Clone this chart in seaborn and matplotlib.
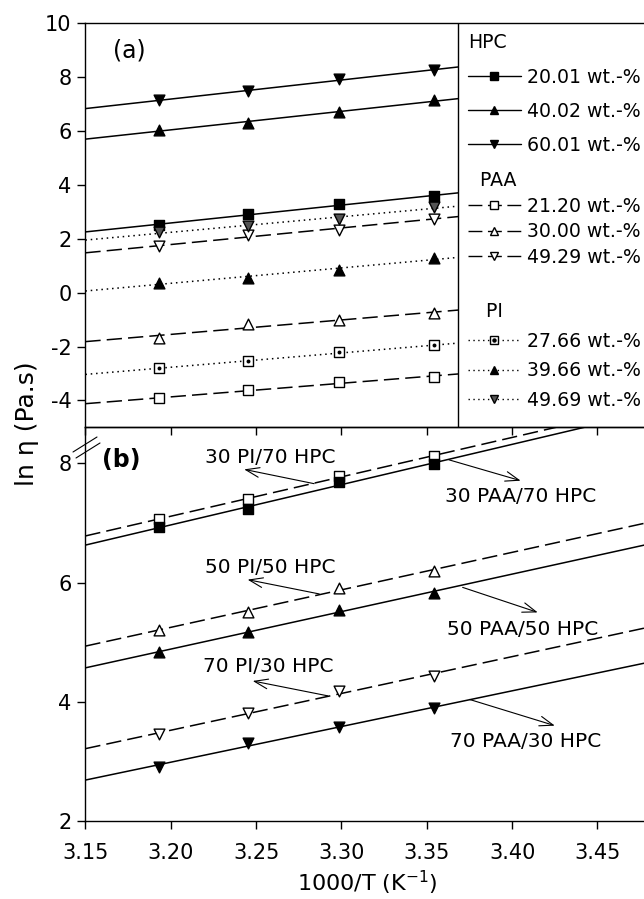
import numpy as np
import matplotlib
matplotlib.use("Agg")
import matplotlib.pyplot as plt
from matplotlib.lines import Line2D
from matplotlib.patches import Rectangle
from matplotlib.legend import Legend
import seaborn as sns

# === Data ===
inv_T = np.array([3.1934, 3.2452, 3.2987, 3.3540])

# panel (a): pure solutions
hpc_20 = [2.50, 2.93, 3.28, 3.57]
hpc_40 = [6.05, 6.29, 6.70, 7.14]
hpc_60 = [7.14, 7.48, 7.94, 8.25]
paa_21 = [-3.93, -3.63, -3.32, -3.13]
paa_30 = [-1.67, -1.18, -1.03, -0.76]
paa_49 = [1.72, 2.13, 2.34, 2.75]
pi_27 = [-2.80, -2.55, -2.22, -1.96]
pi_39 = [0.36, 0.56, 0.85, 1.28]
pi_49 = [2.25, 2.46, 2.75, 3.18]

# panel (b): blends
pi30_hpc70 = [7.07, 7.40, 7.79, 8.12]
paa30_hpc70 = [6.93, 7.24, 7.68, 7.99]
pi50_hpc50 = [5.21, 5.51, 5.91, 6.20]
paa50_hpc50 = [4.83, 5.17, 5.54, 5.83]
pi70_hpc30 = [3.46, 3.81, 4.18, 4.44]
paa70_hpc30 = [2.91, 3.31, 3.58, 3.89]

hpc_labels = ["20.01 wt.-%", "40.02 wt.-%", "60.01 wt.-%"]
paa_labels = ["21.20 wt.-%", "30.00 wt.-%", "49.29 wt.-%"]
pi_labels = ["27.66 wt.-%", "39.66 wt.-%", "49.69 wt.-%"]

blend_labels = ["30 PI/70 HPC", "30 PAA/70 HPC", "50 PI/50 HPC",
                "50 PAA/50 HPC", "70 PI/30 HPC", "70 PAA/30 HPC"]
blend_text_xy = [(3.258, 8.10), (3.405, 7.44), (3.258, 6.26),
                 (3.406, 5.22), (3.257, 4.60), (3.408, 3.34)]
blend_tail_xy = [(3.284, 7.66), (3.363, 8.06), (3.287, 5.81),
                 (3.371, 5.92), (3.292, 4.10), (3.375, 4.04)]
blend_head_xy = [(3.243, 7.90), (3.405, 7.71), (3.245, 6.05),
                 (3.415, 5.50), (3.248, 4.35), (3.425, 3.60)]

# === Styles ===
SOLID = "-"
DASH = (0, (10, 4))
DOT = (0, (1, 2.5))

sns.set_theme(style="ticks")
plt.rcParams["font.family"] = ["DejaVu Sans"]
plt.rcParams["axes.unicode_minus"] = False
plt.rcParams["axes.linewidth"] = 1.0
for key in ("text.color", "axes.labelcolor", "xtick.color", "ytick.color",
            "axes.edgecolor"):
    plt.rcParams[key] = "black"

W, H = 644, 899
left, right = 85.4, 648.7
a_top, mid, b_bot = 23.3, 427.3, 821.0

fig = plt.figure(figsize=(W / 100, H / 100), dpi=100)
ax_a = fig.add_axes([left / W, 1 - mid / H, (right - left) / W, (mid - a_top) / H])
ax_b = fig.add_axes([left / W, 1 - b_bot / H, (right - left) / W, (b_bot - mid) / H])
ax_b.patch.set_visible(False)

for ax in (ax_a, ax_b):
    ax.set_xlim(3.15, 3.48)
    ax.set_xticks(np.arange(3.15, 3.46, 0.05))
    ax.tick_params(axis="both", direction="out", length=6, width=1,
                   color="black", labelcolor="black", labelsize=15, pad=4)
    for s in ax.spines.values():
        s.set_color("black")
        s.set_linewidth(1.0)

ax_a.set_ylim(-5, 10)
ax_a.set_yticks(np.arange(-4, 11, 2))
ax_a.tick_params(axis="x", labelbottom=False)
ax_b.set_ylim(2, 8.606)
ax_b.set_yticks([2, 4, 6, 8])
ax_b.tick_params(axis="x", pad=10)
ax_b.xaxis.set_major_formatter(matplotlib.ticker.FormatStrFormatter("%.2f"))


def fit(ax, y, marker, face, ls, s=55):
    sns.regplot(x=inv_T, y=np.array(y), ax=ax, ci=None, truncate=False,
                marker=marker, color="black",
                scatter_kws={"s": s, "facecolors": face, "edgecolors": "black",
                             "linewidths": 1.0, "alpha": 1, "zorder": 3},
                line_kws={"lw": 1.1, "ls": ls, "zorder": 2})


# === Panel (a) ===
fit(ax_a, hpc_20, "s", "black", SOLID, 50)
fit(ax_a, hpc_40, "^", "black", SOLID, 60)
fit(ax_a, hpc_60, "v", "black", SOLID, 60)
fit(ax_a, paa_21, "s", "white", DASH, 50)
fit(ax_a, paa_30, "^", "white", DASH, 60)
fit(ax_a, paa_49, "v", "white", DASH, 60)
fit(ax_a, pi_27, "s", "white", DOT, 50)
fit(ax_a, pi_39, "^", "black", DOT, 60)
fit(ax_a, pi_49, "v", "#555555", DOT, 60)
sns.scatterplot(x=inv_T, y=pi_27, ax=ax_a, marker="o", s=8, color="black",
                edgecolor="black", linewidth=0, zorder=4)

ax_a.text(3.1755, 8.99, "(a)", fontsize=17, ha="center", va="center")

# legend panel with its own frame
lx = (458.3 - left) / (right - left)
ax_a.add_patch(Rectangle((lx, 0), 1 - lx, 1, transform=ax_a.transAxes,
                         facecolor="white", edgecolor="black", lw=1.0, zorder=4))


def handle(marker, face, ls):
    return Line2D([], [], color="black", lw=1.0, ls=ls, marker=marker,
                  markersize=6, markerfacecolor=face, markeredgecolor="black")


hpc_handles = [handle("s", "black", SOLID), handle("^", "black", SOLID),
               handle("v", "black", SOLID)]
paa_handles = [handle("s", "white", DASH), handle("^", "white", DASH),
               handle("v", "white", DASH)]
pi_handles = [(handle("s", "white", DOT),
               Line2D([], [], ls="none", marker="o", markersize=2.2, color="black")),
              handle("^", "black", DOT), handle("v", "#555555", DOT)]

hx = (468 - left) / (right - left)
groups = [("HPC", hpc_handles, hpc_labels, 0.975, 0.8),
          ("  PAA", paa_handles, paa_labels, 0.634, 0.35),
          ("   PI", pi_handles, pi_labels, 0.309, 0.55)]
for title, hs, labs, ytop, spacing in groups:
    leg = Legend(ax_a, hs, labs, title=title, loc="upper left",
                 bbox_to_anchor=(hx, ytop), frameon=False, fontsize=13.6,
                 title_fontsize=13.6, alignment="left", borderpad=0,
                 borderaxespad=0, handlelength=2.8, handletextpad=0.3,
                 labelspacing=spacing)
    leg.set_zorder(5)
    ax_a.add_artist(leg)

# === Panel (b) ===
fit(ax_b, pi30_hpc70, "s", "white", DASH, 50)
fit(ax_b, paa30_hpc70, "s", "black", SOLID, 50)
fit(ax_b, pi50_hpc50, "^", "white", DASH, 60)
fit(ax_b, paa50_hpc50, "^", "black", SOLID, 60)
fit(ax_b, pi70_hpc30, "v", "white", DASH, 60)
fit(ax_b, paa70_hpc30, "v", "black", SOLID, 60)

for lab, txy, tail, head in zip(blend_labels, blend_text_xy, blend_tail_xy, blend_head_xy):
    ax_b.annotate("", xy=head, xytext=tail,
                  arrowprops=dict(arrowstyle="->,head_length=0.7,head_width=0.25",
                                  lw=0.8, color="black", shrinkA=0, shrinkB=0,
                                  mutation_scale=14))
    ax_b.text(txy[0], txy[1], lab, fontsize=14.5, ha="center", va="center")

ax_b.text(3.1709, 8.056, "(b)", fontsize=17, fontweight="bold",
          ha="center", va="center")

ax_a.set_xlabel("")
ax_a.set_ylabel("")
ax_b.set_ylabel("")
ax_b.set_xlabel("1000/T (K$^{-1}$)", fontsize=16, labelpad=4)
fig.text(27 / W, 1 - 424 / H, "ln η (Pa.s)", rotation=90, fontsize=18,
         ha="center", va="center")

# axis break marks
for (x0, y0, x1, y1) in [(73, 452, 97, 437), (76, 458, 100, 443)]:
    fig.add_artist(Line2D([x0 / W, x1 / W], [1 - y0 / H, 1 - y1 / H],
                          color="black", lw=0.8, transform=fig.transFigure))

fig.savefig("out.png", dpi=100)
